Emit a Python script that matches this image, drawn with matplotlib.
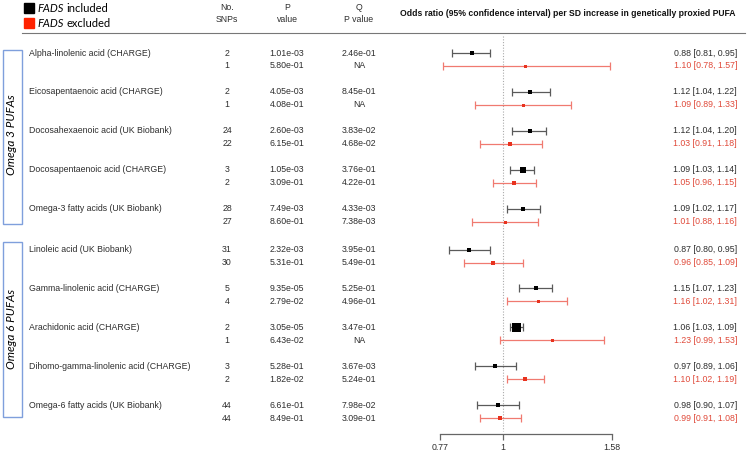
import matplotlib
matplotlib.use("Agg")
import matplotlib.pyplot as plt
from matplotlib.patches import Rectangle

# ---------------- data ----------------
exposures = ["Alpha-linolenic acid (CHARGE)", "Eicosapentaenoic acid (CHARGE)",
             "Docosahexaenoic acid (UK Biobank)", "Docosapentaenoic acid (CHARGE)",
             "Omega-3 fatty acids (UK Biobank)", "Linoleic acid (UK Biobank)",
             "Gamma-linolenic acid (CHARGE)", "Arachidonic acid (CHARGE)",
             "Dihomo-gamma-linolenic acid (CHARGE)", "Omega-6 fatty acids (UK Biobank)"]

snps_inc = [2, 2, 24, 3, 28, 31, 5, 2, 3, 44]
snps_exc = [1, 1, 22, 2, 27, 30, 4, 1, 2, 44]
p_inc = ["1.01e-03", "4.05e-03", "2.60e-03", "1.05e-03", "7.49e-03",
         "2.32e-03", "9.35e-05", "3.05e-05", "5.28e-01", "6.61e-01"]
p_exc = ["5.80e-01", "4.08e-01", "6.15e-01", "3.09e-01", "8.60e-01",
         "5.31e-01", "2.79e-02", "6.43e-02", "1.82e-02", "8.49e-01"]
q_inc = ["2.46e-01", "8.45e-01", "3.83e-02", "3.76e-01", "4.33e-03",
         "3.95e-01", "5.25e-01", "3.47e-01", "3.67e-03", "7.98e-02"]
q_exc = ["NA", "NA", "4.68e-02", "4.22e-01", "7.38e-03",
         "5.49e-01", "4.96e-01", "NA", "5.24e-01", "3.09e-01"]

or_inc = [0.88, 1.12, 1.12, 1.09, 1.09, 0.87, 1.15, 1.06, 0.97, 0.98]
lo_inc = [0.81, 1.04, 1.04, 1.03, 1.02, 0.80, 1.07, 1.03, 0.89, 0.90]
hi_inc = [0.95, 1.22, 1.20, 1.14, 1.17, 0.95, 1.23, 1.09, 1.06, 1.07]
or_exc = [1.10, 1.09, 1.03, 1.05, 1.01, 0.96, 1.16, 1.23, 1.10, 0.99]
lo_exc = [0.78, 0.89, 0.91, 0.96, 0.88, 0.85, 1.02, 0.99, 1.02, 0.91]
hi_exc = [1.57, 1.33, 1.18, 1.15, 1.16, 1.09, 1.31, 1.53, 1.19, 1.08]

# marker sizes (px) (inverse-variance weighting look)
msize_inc = [4, 5, 5, 6, 5, 4, 5, 9, 4, 4]
msize_exc = [3, 3, 3.5, 4, 3, 3.5, 3, 3, 5, 4.5]

xticks = [0.77, 1, 1.58]
xtick_labels = ["0.77", "1", "1.58"]
groups = ["Omega 3 PUFAs", "Omega 6 PUFAs"]

# ---------------- style ----------------
W, H = 750, 454
FONT = ["Liberation Sans", "DejaVu Sans"]
LEG_FONT = ["Lato", "DejaVu Sans"]
BLACK = "#000000"
GREY_LINE = "#5a5a5a"
RED = "#e8321e"
RED_LINE = "#f07a70"
RED_TEXT = "#e04a3a"
TXT = "#2e2e2e"
BLUE = "#7f9fdc"
fs = 6.3

fig = plt.figure(figsize=(W / 100, H / 100), dpi=100)
bg = fig.add_axes([0, 0, 1, 1])
bg.set_xlim(0, W)
bg.set_ylim(H, 0)
bg.axis("off")

# row positions (pixels from top)
y0 = 53
pair = 38.9
within = 13
def row_y(i, j):
    extra = 2 if i >= 5 else 0
    return y0 + i * pair + j * within + extra

# legend
bg.add_patch(Rectangle((24, 3), 10, 10, color=BLACK))
bg.add_patch(Rectangle((24, 18), 10, 10, color="#ff2200"))
for yy, word in [(8.5, "included"), (23.5, "excluded")]:
    bg.text(37, yy, "FADS", fontsize=8, style="italic", va="center", family=LEG_FONT, color=BLACK)
    bg.text(66.5, yy, word, fontsize=8, va="center", family=LEG_FONT, color=BLACK)

# headers
hx_snp, hx_p, hx_q = 227, 287, 359
for x, lines in [(hx_snp, ("No.", "SNPs")), (hx_p, ("P", "value")), (hx_q, ("Q", "P value"))]:
    bg.text(x, 7, lines[0], fontsize=fs, ha="center", va="center", family=FONT, color=TXT)
    bg.text(x, 19.5, lines[1], fontsize=fs, ha="center", va="center", family=FONT, color=TXT)
bg.text(568, 14, "Odds ratio (95% confidence interval) per SD increase in genetically proxied PUFA",
        fontsize=6.2, fontweight="bold", ha="center", va="center", family=FONT, color="#111111")
bg.plot([22, 745], [33, 33], color="#777777", lw=0.8)

# group boxes
bg.add_patch(Rectangle((2.5, 50), 19.5, 174, fill=False, ec=BLUE, lw=1.0))
bg.add_patch(Rectangle((2.5, 242), 19.5, 175, fill=False, ec=BLUE, lw=1.0))
bg.text(12, 135, groups[0], rotation=90, fontsize=8.5, style="italic", ha="center", va="center",
        family=LEG_FONT, color=BLACK)
bg.text(12, 329, groups[1], rotation=90, fontsize=8.5, style="italic", ha="center", va="center",
        family=LEG_FONT, color=BLACK)

# table text
for i, name in enumerate(exposures):
    ya, yb = row_y(i, 0), row_y(i, 1)
    bg.text(29, ya, name, fontsize=fs, va="center", family=FONT, color=TXT)
    bg.text(hx_snp, ya, str(snps_inc[i]), fontsize=fs, ha="center", va="center", family=FONT, color=TXT)
    bg.text(hx_snp, yb, str(snps_exc[i]), fontsize=fs, ha="center", va="center", family=FONT, color=TXT)
    bg.text(hx_p, ya, p_inc[i], fontsize=fs, ha="center", va="center", family=FONT, color=TXT)
    bg.text(hx_p, yb, p_exc[i], fontsize=fs, ha="center", va="center", family=FONT, color=TXT)
    bg.text(hx_q, ya, q_inc[i], fontsize=fs, ha="center", va="center", family=FONT, color=TXT)
    bg.text(hx_q, yb, q_exc[i], fontsize=fs, ha="center", va="center", family=FONT, color=TXT)
    bg.text(737, ya, f"{or_inc[i]:.2f} [{lo_inc[i]:.2f}, {hi_inc[i]:.2f}]", fontsize=fs,
            ha="right", va="center", family=FONT, color=TXT)
    bg.text(737, yb, f"{or_exc[i]:.2f} [{lo_exc[i]:.2f}, {hi_exc[i]:.2f}]", fontsize=fs,
            ha="right", va="center", family=FONT, color=RED_TEXT)

# forest axes: x in log OR, y in pixel rows
ax_left, ax_right = 440, 612
ax_top, ax_bot = 36, 434
ax = fig.add_axes([ax_left / W, 1 - ax_bot / H, (ax_right - ax_left) / W, (ax_bot - ax_top) / H])
ax.set_xscale("log")
ax.set_xlim(xticks[0], xticks[-1])
ax.set_ylim(ax_bot, ax_top)
ax.patch.set_alpha(0)
for s in ["top", "left", "right"]:
    ax.spines[s].set_visible(False)
ax.spines["bottom"].set_color("#666666")
ax.spines["bottom"].set_linewidth(0.9)
ax.set_yticks([])
ax.set_xticks(xticks)
ax.set_xticklabels(xtick_labels)
ax.minorticks_off()
ax.tick_params(axis="x", direction="out", length=4, width=0.9, color="#666666",
               labelsize=fs, labelcolor=TXT, pad=2.5)
for lab in ax.get_xticklabels():
    lab.set_family(FONT)

ax.plot([1, 1], [ax_top, ax_bot - 3], ls=(0, (1, 1.5)), color="#aaaaaa", lw=0.8, clip_on=False)

for i in range(len(exposures)):
    ya, yb = row_y(i, 0), row_y(i, 1)
    ax.errorbar(or_inc[i], ya, xerr=[[or_inc[i] - lo_inc[i]], [hi_inc[i] - or_inc[i]]],
                fmt="none", ecolor=GREY_LINE, elinewidth=0.9, capsize=2.6, capthick=0.9, clip_on=False)
    ax.plot(or_inc[i], ya, marker="s", ms=msize_inc[i] * 0.72, color=BLACK, mec=BLACK, mew=0, clip_on=False)
    ax.errorbar(or_exc[i], yb, xerr=[[or_exc[i] - lo_exc[i]], [hi_exc[i] - or_exc[i]]],
                fmt="none", ecolor=RED_LINE, elinewidth=0.9, capsize=2.6, capthick=0.9, clip_on=False)
    ax.plot(or_exc[i], yb, marker="s", ms=msize_exc[i] * 0.72, color=RED, mec=RED, mew=0, clip_on=False)

fig.savefig("out.png", dpi=100)
